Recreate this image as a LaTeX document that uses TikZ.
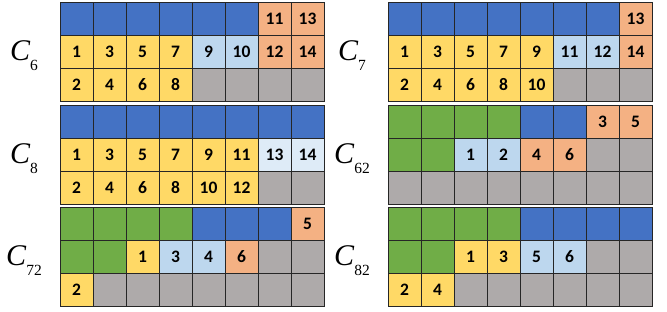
\documentclass[tikz,border=0pt]{standalone}
\usepackage{fontspec}
\setmainfont{Liberation Serif}
\newfontfamily\cellfont{Carlito}
\definecolor{Bl}{HTML}{4472C4}
\definecolor{Ye}{HTML}{FFD966}
\definecolor{Sk}{HTML}{BDD7EE}
\definecolor{Pa}{HTML}{DEEBF7}
\definecolor{Or}{HTML}{F4B183}
\definecolor{Gy}{HTML}{AEAAAA}
\definecolor{Gn}{HTML}{70AD47}
\newcommand{\Cname}[1]{{\fontsize{30}{30}\selectfont\itshape C}\raisebox{-10pt}{\fontsize{15.5}{15.5}\selectfont #1}}
\tikzset{
	cell/.style={draw=black!85,line width=0.9pt,minimum width=33pt,minimum height=33pt,
		inner sep=0pt,font=\cellfont\bfseries\fontsize{17.5}{17.5}\selectfont},
	tag/.style={anchor=base,inner sep=0pt},
}

\begin{document}
\begin{tikzpicture}[x=1pt,y=-1pt]
	\useasboundingbox (0,0) rectangle (667,311);
	\foreach \p/\px/\py/\sub/\rows in {
		six/60/2/6/{{Bl/,Bl/,Bl/,Bl/,Bl/,Bl/,Or/11,Or/13},{Ye/1,Ye/3,Ye/5,Ye/7,Sk/9,Sk/10,Or/12,Or/14},{Ye/2,Ye/4,Ye/6,Ye/8,Gy/,Gy/,Gy/,Gy/}},
		seven/388/2/7/{{Bl/,Bl/,Bl/,Bl/,Bl/,Bl/,Bl/,Or/13},{Ye/1,Ye/3,Ye/5,Ye/7,Ye/9,Sk/11,Sk/12,Or/14},{Ye/2,Ye/4,Ye/6,Ye/8,Ye/10,Gy/,Gy/,Gy/}},
		eight/60/105/8/{{Bl/,Bl/,Bl/,Bl/,Bl/,Bl/,Bl/,Bl/},{Ye/1,Ye/3,Ye/5,Ye/7,Ye/9,Ye/11,Pa/13,Pa/14},{Ye/2,Ye/4,Ye/6,Ye/8,Ye/10,Ye/12,Gy/,Gy/}},
		sixtwo/388/105/62/{{Gn/,Gn/,Gn/,Gn/,Bl/,Bl/,Or/3,Or/5},{Gn/,Gn/,Sk/1,Sk/2,Or/4,Or/6,Gy/,Gy/},{Gy/,Gy/,Gy/,Gy/,Gy/,Gy/,Gy/,Gy/}},
		seventwo/60/207/72/{{Gn/,Gn/,Gn/,Gn/,Bl/,Bl/,Bl/,Or/5},{Gn/,Gn/,Ye/1,Sk/3,Sk/4,Or/6,Gy/,Gy/},{Ye/2,Gy/,Gy/,Gy/,Gy/,Gy/,Gy/,Gy/}},
		eighttwo/388/207/82/{{Gn/,Gn/,Gn/,Gn/,Bl/,Bl/,Bl/,Bl/},{Gn/,Gn/,Ye/1,Ye/3,Sk/5,Sk/6,Gy/,Gy/},{Ye/2,Ye/4,Gy/,Gy/,Gy/,Gy/,Gy/,Gy/}}%
	}{
		\begin{scope}[shift={(\px,\py)}]
			\node[tag] (\p-label) at (-36,58) {\Cname{\sub}};
			\foreach \row [count=\r from 0] in \rows
			\foreach \k/\t [count=\i from 0] in \row
			\node[cell,fill=\k] (\p-\r-\i) at ({33*\i+16.5},{33*\r+16.5}) {\t};
		\end{scope}
	}
\end{tikzpicture}
\end{document}
